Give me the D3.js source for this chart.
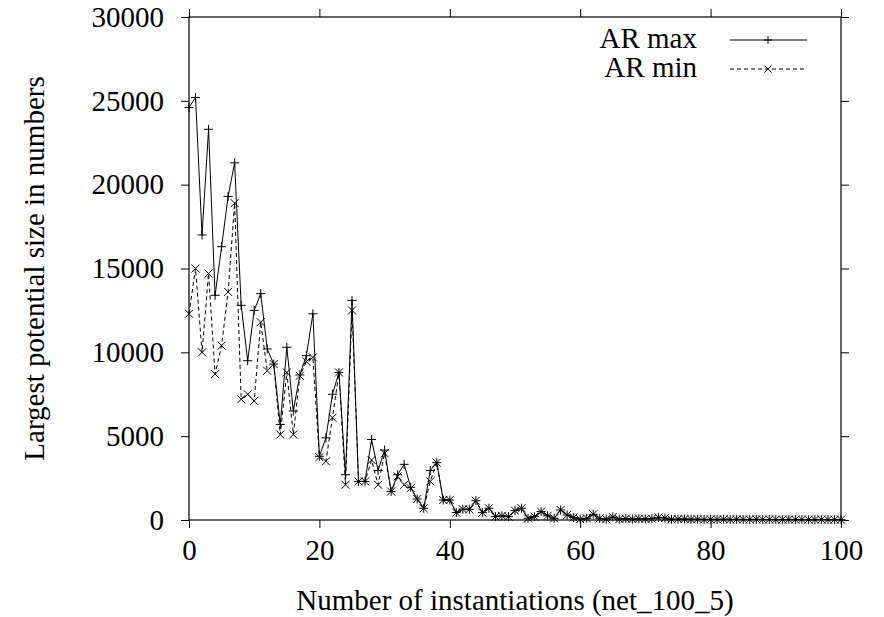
<!DOCTYPE html>
<html>
<head>
<meta charset="utf-8">
<script src="https://cdn.jsdelivr.net/npm/d3@7"></script>
<style>
  body { margin: 0; background: #fff; }
  svg text { font-family: "Times New Roman", "Liberation Serif", Times, serif !important; fill: #000; }
</style>
</head>
<body>
<div id="chart"></div>
<script>
// instantiation index 0..100
const arMax = [
  24600, 25200, 17000, 23300, 13400, 16300, 19300, 21300, 12800, 9500,
  12500, 13500, 10200, 9300, 5700, 10300, 6500, 8650, 9800, 12300,
  3800, 4900, 7500, 8800, 2700, 13100, 2300, 2300, 4800, 2950,
  4170, 1700, 2700, 3320, 1950, 1250, 700, 2950, 3420, 1190,
  1190, 450, 640, 640, 1150, 440, 700, 200, 250, 200,
  560, 700, 100, 200, 500, 250, 100, 600, 300, 150,
  50, 100, 340, 100, 50, 180, 50, 80, 50, 80,
  60, 80, 150, 120, 40, 50, 60, 40, 50, 30,
  40, 30, 50, 30, 40, 30, 30, 40, 30, 30,
  30, 20, 30, 20, 30, 20, 20, 30, 20, 20, 20
];
const arMin = [
  12300, 15000, 10000, 14700, 8700, 10400, 13600, 18900, 7200, 7500,
  7100, 11800, 8900, 9300, 5100, 8800, 5100, 8600, 9450, 9700,
  3750, 3500, 6100, 8800, 2100, 12500, 2300, 2300, 3580, 2100,
  3980, 1700, 2600, 2100, 1900, 1250, 700, 2300, 3420, 1190,
  1190, 440, 640, 640, 1150, 440, 700, 200, 250, 200,
  560, 700, 100, 200, 500, 250, 100, 600, 300, 150,
  50, 100, 340, 100, 50, 180, 50, 80, 50, 80,
  60, 80, 150, 120, 40, 50, 60, 40, 50, 30,
  40, 30, 50, 30, 40, 30, 30, 40, 30, 30,
  30, 20, 30, 20, 30, 20, 20, 30, 20, 20, 20
];
const xTicks = [0, 20, 40, 60, 80, 100];
const yTicks = [0, 5000, 10000, 15000, 20000, 25000, 30000];
const seriesNames = ['AR max', 'AR min'];

const W = 884, H = 617;
const pLeft = 189, pRight = 841, pTop = 17, pBottom = 520;

const svg = d3.select('#chart').append('svg')
  .attr('width', W)
  .attr('height', H);

const x = d3.scaleLinear().domain([0, 100]).range([pLeft, pRight]);
const y = d3.scaleLinear().domain([0, 30000]).range([pBottom, pTop]);

const fs = 29;

function styleAxis(g, showText) {
  g.attr('font-family', null);
  g.select('.domain').remove();
  g.selectAll('.tick line').attr('stroke', '#000').attr('stroke-width', 1);
  if (!showText) g.selectAll('.tick text').remove();
  else g.selectAll('.tick text').attr('font-size', fs).attr('fill', '#000');
}

// axes, ticks pointing outwards like gnuplot "set tics out"
svg.append('g').attr('transform', `translate(0,${pBottom})`)
  .call(d3.axisBottom(x).tickValues(xTicks).tickFormat(d3.format('d'))
    .tickSize(8).tickPadding(11).tickSizeOuter(0))
  .call(g => styleAxis(g, true));
svg.append('g').attr('transform', `translate(0,${pTop})`)
  .call(d3.axisTop(x).tickValues(xTicks).tickSize(8).tickSizeOuter(0))
  .call(g => styleAxis(g, false));
svg.append('g').attr('transform', `translate(${pLeft},0)`)
  .call(d3.axisLeft(y).tickValues(yTicks).tickFormat(d3.format('d'))
    .tickSize(8).tickPadding(17).tickSizeOuter(0))
  .call(g => styleAxis(g, true));
svg.append('g').attr('transform', `translate(${pRight},0)`)
  .call(d3.axisRight(y).tickValues(yTicks).tickSize(8).tickSizeOuter(0))
  .call(g => styleAxis(g, false));

// frame
svg.append('rect')
  .attr('x', pLeft).attr('y', pTop)
  .attr('width', pRight - pLeft).attr('height', pBottom - pTop)
  .attr('fill', 'none').attr('stroke', '#000').attr('stroke-width', 1.2);

// axis titles
svg.append('text')
  .attr('x', (pLeft + pRight) / 2).attr('y', 610)
  .attr('text-anchor', 'middle').attr('font-size', fs)
  .text('Number of instantiations (net_100_5)');
svg.append('text')
  .attr('transform', `translate(44,${(pTop + pBottom) / 2}) rotate(-90)`)
  .attr('text-anchor', 'middle').attr('font-size', fs)
  .text('Largest potential size in numbers');

const line = d3.line().x((d, i) => x(i)).y(d => y(d));

function plus(g, cx, cy, r) {
  g.append('path')
    .attr('d', `M${cx - r},${cy}H${cx + r}M${cx},${cy - r}V${cy + r}`)
    .attr('stroke', '#000').attr('stroke-width', 1).attr('fill', 'none');
}
function cross(g, cx, cy, r) {
  g.append('path')
    .attr('d', `M${cx - r},${cy - r}L${cx + r},${cy + r}M${cx - r},${cy + r}L${cx + r},${cy - r}`)
    .attr('stroke', '#000').attr('stroke-width', 1).attr('fill', 'none');
}

const plot = svg.append('g');

// AR min (dashed, x markers)
plot.append('path').datum(arMin)
  .attr('fill', 'none').attr('stroke', '#000').attr('stroke-width', 1)
  .attr('stroke-dasharray', '4,3')
  .attr('d', line);
arMin.forEach((v, i) => cross(plot, x(i), y(v), 4));

// AR max (solid, + markers)
plot.append('path').datum(arMax)
  .attr('fill', 'none').attr('stroke', '#000').attr('stroke-width', 1)
  .attr('d', line);
arMax.forEach((v, i) => plus(plot, x(i), y(v), 4.5));

// legend
const legend = svg.append('g');
[40, 69].forEach((ly, k) => {
  legend.append('text')
    .attr('x', 697).attr('y', ly + 8)
    .attr('text-anchor', 'end').attr('font-size', fs)
    .text(seriesNames[k]);
  const ln = legend.append('line')
    .attr('x1', 730).attr('x2', 807).attr('y1', ly).attr('y2', ly)
    .attr('stroke', '#000').attr('stroke-width', 1);
  if (k === 1) ln.attr('stroke-dasharray', '4,3');
  if (k === 0) plus(legend, 768, ly, 4);
  else cross(legend, 768, ly, 3.5);
});
</script>
</body>
</html>
